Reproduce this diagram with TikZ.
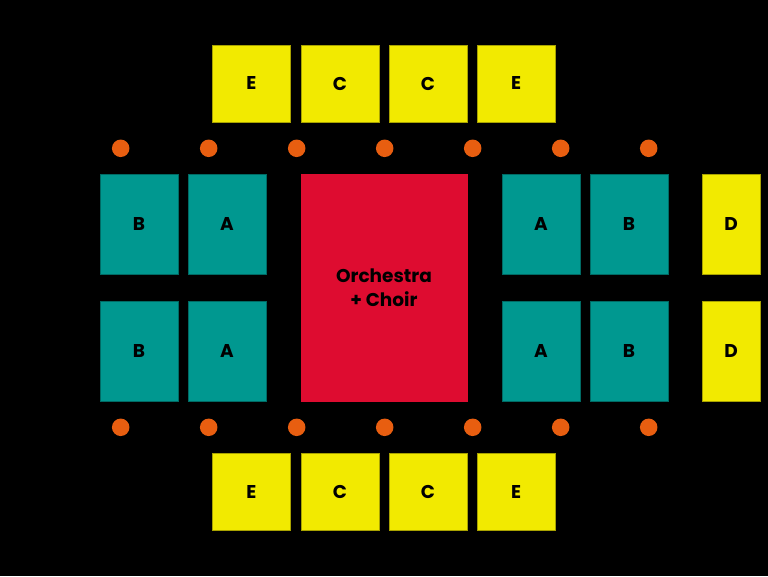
\documentclass[tikz,border=0pt]{standalone}
\usepackage{fontspec}
\setmainfont{Poppins}
\usetikzlibrary{calc}
\definecolor{seatY}{HTML}{F2EA00}
\definecolor{seatYd}{HTML}{A8A200}
\definecolor{seatT}{HTML}{009890}
\definecolor{seatTd}{HTML}{006A64}
\definecolor{stageR}{HTML}{DE0C30}
\definecolor{lampO}{HTML}{E85E10}
\tikzset{
box/.style={minimum width=78pt,minimum height=77pt,inner sep=0pt,line width=0.8pt,font=\fontsize{18.5}{24}\selectfont\bfseries},
ybox/.style={box,fill=seatY,draw=seatYd},
tbox/.style={box,fill=seatT,draw=seatTd,minimum height=100pt},
lamp/.style={circle,fill=lampO,minimum size=17.5pt,inner sep=0pt}}
\begin{document}
\begin{tikzpicture}[x=1pt,y=-1pt]
\fill[black] (0,0)coordinate (TL) rectangle (768,576)coordinate (BR);
\useasboundingbox (TL) rectangle (BR);
\foreach\x/\t/\n in {251.5/E/1,340/C/2,428/C/3,516/E/4} {
\node[ybox] (top\n) at (\x,83.5) {\t};
\node[ybox] (bot\n) at (\x,492) {\t};}
\foreach\x/\t/\n in {139/B/1,227/A/2,541/A/3,629/B/4} {
\node[tbox] (up\n) at (\x,224.5) {\t};
\node[tbox] (lo\n) at (\x,351) {\t};}
\node[ybox,minimum width=58pt,minimum height=100pt] (Dup) at (731,224.5) {D};
\node[ybox,minimum width=58pt,minimum height=100pt] (Dlo) at (731,351) {D};
\node[box,fill=stageR,minimum width=167pt,minimum height=227.5pt,align=center] (stage) at (384,288) {Orchestra\\+ Choir};
\foreach\k in {0,...,6} {
\node[lamp] (lt\k) at (120.7+88*\k,148.3) {};
\node[lamp] (lb\k) at (120.7+88*\k,427.3) {};}
\end{tikzpicture}
\end{document}
